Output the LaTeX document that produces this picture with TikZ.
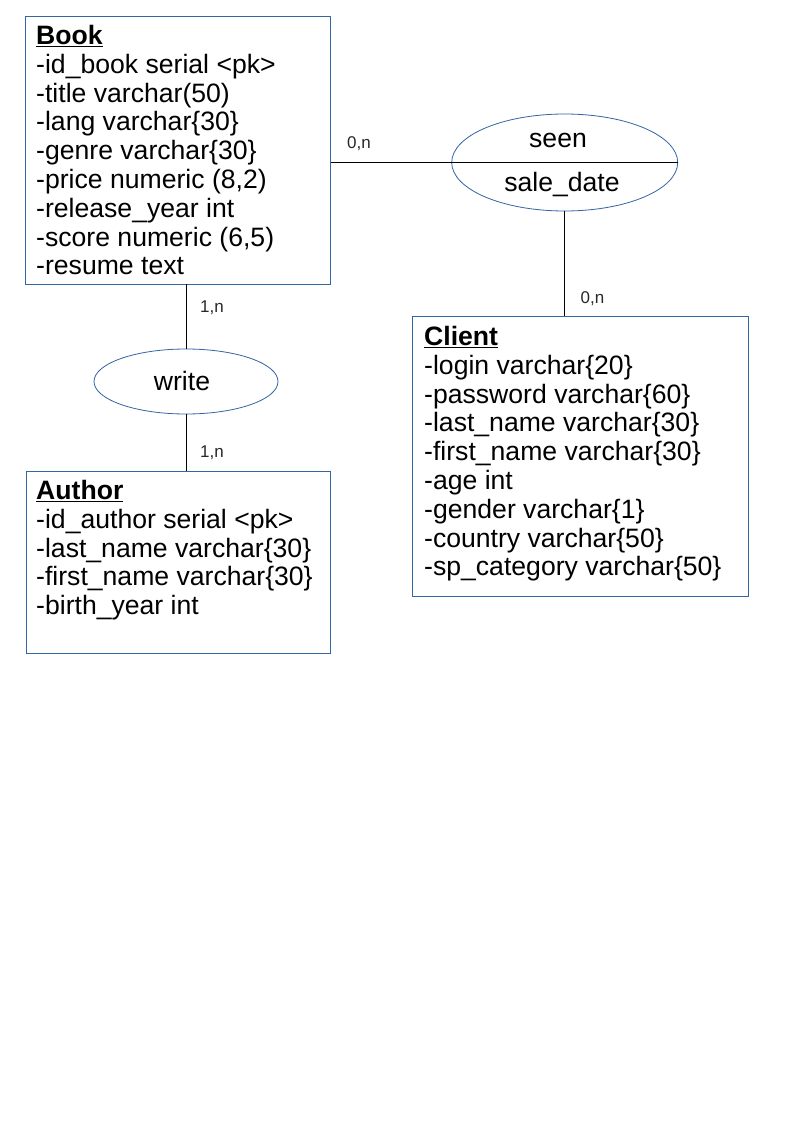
\documentclass[tikz,border=0pt]{standalone}
\usepackage{fontspec}
\setmainfont{Liberation Sans}
\usetikzlibrary{shapes.geometric}
\definecolor{erblue}{RGB}{52,101,164}
\definecolor{lbl}{RGB}{40,40,40}
\begin{document}
\begin{tikzpicture}[x=1pt,y=-1pt,
  entity/.style={draw=erblue,line width=1pt,rectangle,inner sep=0pt,outer sep=0pt},
  assoc/.style={draw=erblue,line width=0.8pt,ellipse,inner sep=0pt,outer sep=0pt},
  attr/.style={anchor=base west,inner sep=0pt,font=\fontsize{26.6}{29}\selectfont},
  ctext/.style={anchor=base,inner sep=0pt,font=\fontsize{26.6}{29}\selectfont},
  card/.style={anchor=base west,inner sep=0pt,text=lbl,font=\fontsize{17}{19}\selectfont},
  link/.style={draw=black,line width=1pt}]
\useasboundingbox (0,0) rectangle (794,1123);
\fill[white] (0,0) rectangle (794,1123);
% entities
\node[entity,minimum width=305pt,minimum height=268pt] (book) at (178,150.2) {};
\node[entity,minimum width=335.6pt,minimum height=280pt] (client) at (580.5,456) {};
\node[entity,minimum width=304pt,minimum height=182pt] (author) at (178,562) {};
% associations
\node[assoc,minimum width=226pt,minimum height=97pt] (seen) at (564.7,162.5) {};
\node[assoc,minimum width=184pt,minimum height=65pt] (write) at (186,381.5) {};
% Book text
\node[attr] (b0) at (36,44.5) {\textbf{\underline{Book}}};
\node[attr] (b1) at (36,73.3) {-id\_book serial <pk>};
\node[attr] (b2) at (36,102.1) {-title varchar(50)};
\node[attr] (b3) at (36,130.9) {-lang varchar\{30\}};
\node[attr] (b4) at (36,159.7) {-genre varchar\{30\}};
\node[attr] (b5) at (36,188.5) {-price numeric (8,2)};
\node[attr] (b6) at (36,217.3) {-release\_year int};
\node[attr] (b7) at (36,246.1) {-score numeric (6,5)};
\node[attr] (b8) at (36,274.9) {-resume text};
% Client text
\node[attr] (c0) at (424,345.5) {\textbf{\underline{Client}}};
\node[attr] (c1) at (424,374.3) {-login varchar\{20\}};
\node[attr] (c2) at (424,403.1) {-password varchar\{60\}};
\node[attr] (c3) at (424,431.9) {-last\_name varchar\{30\}};
\node[attr] (c4) at (424,460.7) {-first\_name varchar\{30\}};
\node[attr] (c5) at (424,489.5) {-age int};
\node[attr] (c6) at (424,518.3) {-gender varchar\{1\}};
\node[attr] (c7) at (424,547.1) {-country varchar\{50\}};
\node[attr] (c8) at (424,575.9) {-sp\_category varchar\{50\}};
% Author text
\node[attr] (a0) at (36,499.5) {\textbf{\underline{Author}}};
\node[attr] (a1) at (36,528.3) {-id\_author serial <pk>};
\node[attr] (a2) at (36,557.1) {-last\_name varchar\{30\}};
\node[attr] (a3) at (36,585.9) {-first\_name varchar\{30\}};
\node[attr] (a4) at (36,614.7) {-birth\_year int};
% association texts
\node[ctext] (st) at (558,148) {seen};
\node[ctext] (sd) at (562,192) {sale\_date};
\node[ctext] (wt) at (182,390) {write};
% connectors
\draw[link] (book.east |- seen.center) -- (seen.east);
\draw[link] (seen.south) -- (seen.south |- client.north);
\draw[link] (write.north |- book.south) -- (write.north);
\draw[link] (write.south) -- (write.south |- author.north);
% cardinalities
\node[card] (k1) at (347,149) {0,n};
\node[card] (k2) at (580.5,303) {0,n};
\node[card] (k3) at (200,312.5) {1,n};
\node[card] (k4) at (200,457.5) {1,n};
\end{tikzpicture}
\end{document}
